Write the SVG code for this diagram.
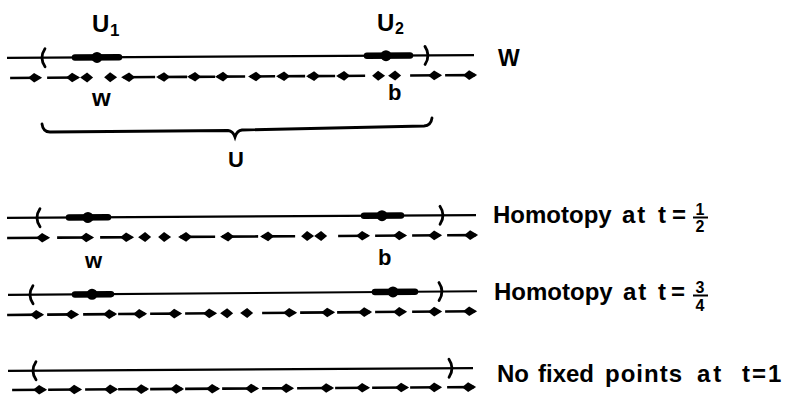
<svg xmlns="http://www.w3.org/2000/svg" xmlns:xlink="http://www.w3.org/1999/xlink" width="789" height="396" viewBox="0 0 789 396">
<style>
.ln{stroke:#000;stroke-width:2.2;fill:none}
.th{stroke:#000;stroke-width:6.5;stroke-linecap:round}
.pr{stroke:#000;stroke-width:2.8;fill:none;stroke-linecap:round}
.ar{stroke:#000;stroke-width:2.6;marker-end:url(#h)}
.t{font-family:"Liberation Sans",Arial,sans-serif;font-weight:bold;fill:#000}
</style>
<defs>
<marker id="h" viewBox="-13 -5 16 10" refX="0" refY="0" markerWidth="16" markerHeight="10" markerUnits="userSpaceOnUse" orient="auto" overflow="visible">
<path d="M2,0 L-6,-4.8 L-12,0 L-6,4.8 Z" fill="#000"/>
</marker>
<path id="sr" d="M0,0 L-6,-5 L-13,0 L-6,5 Z" fill="#000"/>
<path id="sl" d="M0,0 L6,-5 L13,0 L6,5 Z" fill="#000"/>
<path id="lp" d="M3,-9 Q-3,0 3,9" class="pr"/>
<path id="rp" d="M-3,-9 Q3,0 -3,9" class="pr"/>
</defs>

<g id="row1" transform="translate(0,58) rotate(-0.35)">
<line class="ln" x1="7" y1="0" x2="474" y2="0"/>
<use xlink:href="#lp" x="42" y="0"/>
<use xlink:href="#rp" x="428" y="0"/>
<line class="th" x1="75" y1="0" x2="119" y2="0"/>
<circle cx="97" cy="0" r="5.5"/>
<line class="th" x1="367" y1="0" x2="410" y2="0"/>
<circle cx="386" cy="0" r="5.5"/>
<g id="flow1">
<line class="ar" x1="10" y1="20" x2="40" y2="20"/>
<line class="ar" x1="47" y1="20" x2="78" y2="20"/>
<use xlink:href="#sr" x="93" y="20"/>
<use xlink:href="#sl" x="104" y="20"/>
<line class="ar" x1="155" y1="20" x2="123" y2="20"/>
<line class="ar" x1="187" y1="20" x2="158" y2="20"/>
<line class="ar" x1="215" y1="20" x2="189" y2="20"/>
<line class="ar" x1="245" y1="20" x2="217" y2="20"/>
<line class="ar" x1="275" y1="20" x2="250" y2="20"/>
<line class="ar" x1="305" y1="20" x2="278" y2="20"/>
<line class="ar" x1="335" y1="20" x2="308" y2="20"/>
<line class="ar" x1="365" y1="20" x2="338" y2="20"/>
<use xlink:href="#sl" x="372" y="20"/>
<use xlink:href="#sr" x="401" y="20"/>
<line class="ar" x1="410" y1="20" x2="440" y2="20"/>
<line class="ar" x1="445" y1="20" x2="475" y2="20"/>
</g>
</g>

<g id="labels1">
<text class="t" x="92" y="32" font-size="24">U</text>
<text class="t" x="110" y="36" font-size="17">1</text>
<text class="t" x="377" y="31" font-size="24">U</text>
<text class="t" x="395" y="34" font-size="16">2</text>
<text class="t" x="498" y="66" font-size="23">W</text>
<text class="t" x="92" y="106" font-size="24">w</text>
<text class="t" x="388" y="100" font-size="22">b</text>
</g>

<g id="brace">
<path class="pr" d="M42,124 Q43,132 50,132 L228,130.5 Q233,131 235,137 Q237,130.5 242,130 L424,126 Q431,125.5 432,118"/>
<text class="t" x="228" y="167" font-size="22">U</text>
</g>

<g id="row2" transform="translate(0,218) rotate(-0.35)">
<line class="ln" x1="7" y1="0" x2="476" y2="0"/>
<use xlink:href="#lp" x="37" y="0"/>
<use xlink:href="#rp" x="443" y="0"/>
<line class="th" x1="69" y1="0" x2="108" y2="0"/>
<circle cx="88" cy="0" r="5.5"/>
<line class="th" x1="364" y1="0" x2="401" y2="0"/>
<circle cx="382" cy="0" r="5.5"/>
<g id="flow2">
<line class="ar" x1="7" y1="20" x2="48" y2="20"/>
<line class="ar" x1="57" y1="20" x2="92" y2="20"/>
<line class="ar" x1="100" y1="20" x2="132" y2="20"/>
<use xlink:href="#sr" x="151" y="20"/>
<use xlink:href="#sl" x="158" y="20"/>
<line class="ar" x1="215" y1="20" x2="180" y2="20"/>
<line class="ar" x1="258" y1="20" x2="222" y2="20"/>
<line class="ar" x1="295" y1="20" x2="262" y2="20"/>
<use xlink:href="#sl" x="301" y="20"/>
<use xlink:href="#sr" x="327" y="20"/>
<line class="ar" x1="338" y1="20" x2="368" y2="20"/>
<line class="ar" x1="375" y1="20" x2="405" y2="20"/>
<line class="ar" x1="412" y1="20" x2="440" y2="20"/>
<line class="ar" x1="447" y1="20" x2="476" y2="20"/>
</g>
</g>

<g id="labels2">
<text class="t" x="85" y="268" font-size="22">w</text>
<text class="t" x="378" y="265" font-size="22">b</text>
<text class="t" x="493" y="223" font-size="24">Homotopy</text>
<text class="t" x="622" y="223" font-size="24" letter-spacing="2">at</text>
<text class="t" x="658" y="223" font-size="24">t</text>
<text class="t" x="672" y="223" font-size="24">=</text>
<text class="t" x="700" y="215" font-size="16" text-anchor="middle">1</text>
<line x1="693" y1="217.5" x2="708" y2="217.5" stroke="#000" stroke-width="2"/>
<text class="t" x="700" y="232" font-size="16" text-anchor="middle">2</text>
</g>

<g id="row3" transform="translate(0,295) rotate(-0.45)">
<line class="ln" x1="8" y1="0" x2="477" y2="0"/>
<use xlink:href="#lp" x="30" y="0"/>
<use xlink:href="#rp" x="442" y="0"/>
<line class="th" x1="75" y1="0" x2="111" y2="0"/>
<circle cx="92" cy="0" r="5.5"/>
<line class="th" x1="375" y1="0" x2="415" y2="0"/>
<circle cx="393" cy="0" r="5.5"/>
<g id="flow3">
<line class="ar" x1="7" y1="20" x2="42" y2="20"/>
<line class="ar" x1="47" y1="20" x2="77" y2="20"/>
<line class="ar" x1="83" y1="20" x2="115" y2="20"/>
<line class="ar" x1="118" y1="20" x2="145" y2="20"/>
<line class="ar" x1="150" y1="20" x2="180" y2="20"/>
<line class="ar" x1="185" y1="20" x2="215" y2="20"/>
<use xlink:href="#sr" x="233" y="20"/>
<use xlink:href="#sr" x="253" y="20"/>
<line class="ar" x1="262" y1="20" x2="295" y2="20"/>
<line class="ar" x1="300" y1="20" x2="333" y2="20"/>
<line class="ar" x1="337" y1="20" x2="370" y2="20"/>
<line class="ar" x1="375" y1="20" x2="405" y2="20"/>
<line class="ar" x1="412" y1="20" x2="440" y2="20"/>
<line class="ar" x1="445" y1="20" x2="475" y2="20"/>
</g>
</g>

<g id="labels3">
<text class="t" x="494" y="300" font-size="24">Homotopy</text>
<text class="t" x="623" y="300" font-size="24" letter-spacing="2">at</text>
<text class="t" x="658" y="300" font-size="24">t</text>
<text class="t" x="671" y="300" font-size="24">=</text>
<text class="t" x="700" y="293" font-size="16" text-anchor="middle">3</text>
<line x1="693" y1="295.5" x2="708" y2="295.5" stroke="#000" stroke-width="2"/>
<text class="t" x="700" y="311" font-size="16" text-anchor="middle">4</text>
</g>

<g id="row4" transform="translate(0,371) rotate(-0.35)">
<line class="ln" x1="8" y1="0" x2="473" y2="0"/>
<use xlink:href="#lp" x="33" y="0"/>
<use xlink:href="#rp" x="452" y="0"/>
<g id="flow4">
<line class="ar" x1="12" y1="19" x2="45" y2="19"/>
<line class="ar" x1="48" y1="19" x2="80" y2="19"/>
<line class="ar" x1="85" y1="19" x2="116" y2="19"/>
<line class="ar" x1="118" y1="19" x2="147" y2="19"/>
<line class="ar" x1="150" y1="19" x2="182" y2="19"/>
<line class="ar" x1="185" y1="19" x2="218" y2="19"/>
<line class="ar" x1="222" y1="19" x2="257" y2="19"/>
<line class="ar" x1="262" y1="19" x2="292" y2="19"/>
<line class="ar" x1="297" y1="19" x2="332" y2="19"/>
<line class="ar" x1="335" y1="19" x2="368" y2="19"/>
<line class="ar" x1="372" y1="19" x2="407" y2="19"/>
<line class="ar" x1="410" y1="19" x2="440" y2="19"/>
<line class="ar" x1="447" y1="19" x2="474" y2="19"/>
</g>
</g>

<g id="labels4">
<text class="t" x="497" y="382" font-size="24">No</text>
<text class="t" x="538" y="382" font-size="24">fixed</text>
<text class="t" x="605" y="382" font-size="24" letter-spacing="1">points</text>
<text class="t" x="697" y="382" font-size="24" letter-spacing="3">at</text>
<text class="t" x="742" y="382" font-size="24" letter-spacing="2">t=1</text>
</g>
</svg>
